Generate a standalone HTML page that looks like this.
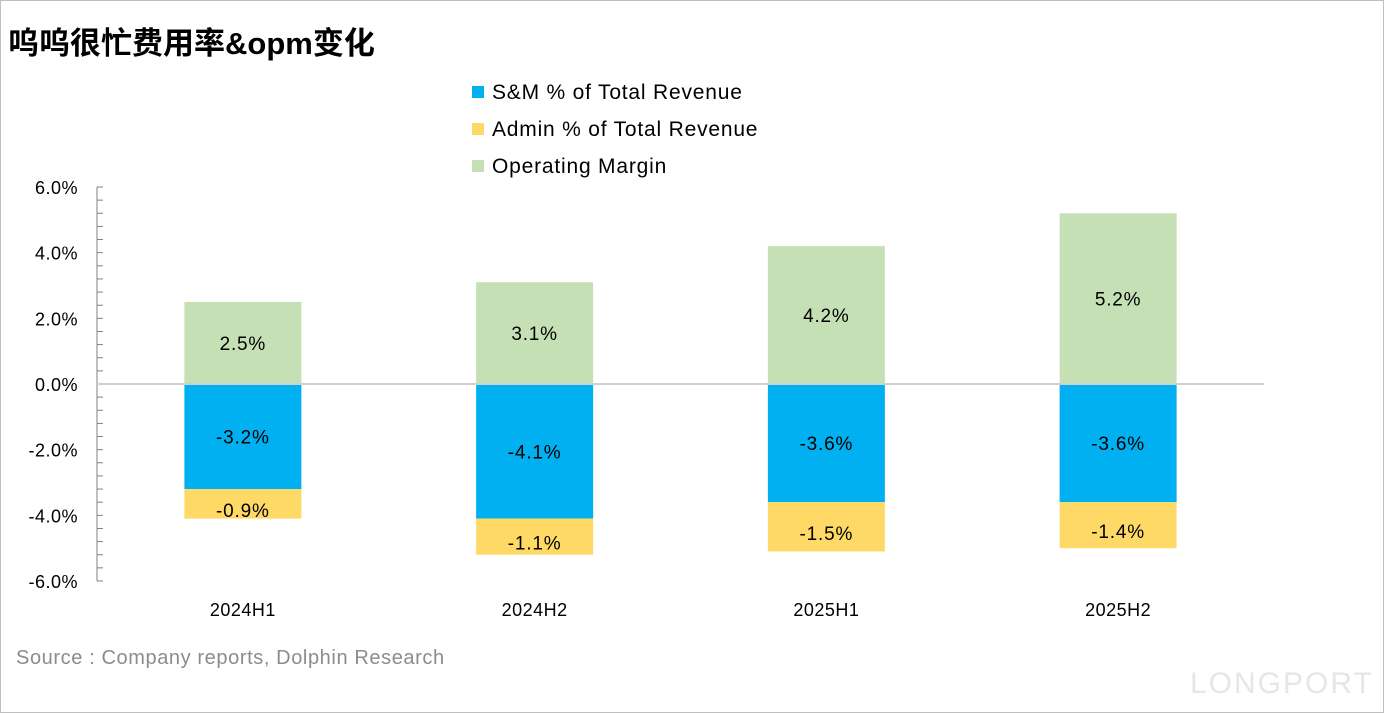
<!DOCTYPE html>
<html><head><meta charset="utf-8"><style>
body{margin:0;width:1384px;height:713px;overflow:hidden;background:#fff;font-family:"Liberation Sans","Noto Sans CJK SC",sans-serif}
#frame{position:absolute;left:0;top:0;width:1382px;height:711px;border:1px solid #bfbfbf}
#title{position:absolute;left:8px;top:18px;font-size:31px;font-weight:bold;color:#000}
#src{position:absolute;left:16px;top:647px;font-size:20px;color:#8c8c8c;letter-spacing:0.6px}
</style></head><body>
<div id="frame"></div>
<div id="title">呜呜很忙费用率&amp;opm变化</div>
<div id="src">Source : Company reports, Dolphin Research</div>
<svg id="c" width="1384" height="713" style="position:absolute;left:0;top:0"></svg>
<script>
const categories=["2024H1","2024H2","2025H1","2025H2"];
const opm=[2.5,3.1,4.2,5.2];
const sm=[-3.2,-4.1,-3.6,-3.6];
const admin=[-0.9,-1.1,-1.5,-1.4];
const yTicks=[6,4,2,0,-2,-4,-6];
const legendLabels=["S&M % of Total Revenue","Admin % of Total Revenue","Operating Margin"];
const colors=["#00b0f0","#ffd966","#c5e0b4"];
const svg=document.getElementById('c');const NS="http://www.w3.org/2000/svg";
const x0=97,x1=1264,yTop=187,yBot=581;
const y=v=>384-(v/6)*(384-yTop);
const band=(x1-x0)/categories.length;const bw=117;
const cx=i=>x0+band*(i+0.5);
function mk(t,a){const e=document.createElementNS(NS,t);for(const k in a)e.setAttribute(k,a[k]);svg.appendChild(e);return e;}
let ax=mk('line',{x1:x0,x2:x0,y1:yTop,y2:yBot,stroke:'#808080','stroke-width':1});

for(let v=-6;v<=6.001;v+=0.4){const t=mk('line',{x1:x0,x2:x0+6,y1:y(v),y2:y(v),stroke:'#808080'});
}
yTicks.forEach(v=>{const t=mk('text',{x:78,y:y(v)+7,'text-anchor':'end','font-size':18,fill:'#000','letter-spacing':0.5});t.textContent=v.toFixed(1)+'%';
});
categories.forEach((c,i)=>{
 const l=cx(i)-bw/2;
 const segs=[[0,opm[i],2],[0,sm[i],0],[sm[i],sm[i]+admin[i],1]];
 const vals=[opm[i],sm[i],admin[i]];
 segs.forEach((s,k)=>{const a=Math.min(y(s[0]),y(s[1])),b=Math.max(y(s[0]),y(s[1]));
  const r=mk('rect',{x:l,y:a,width:bw,height:b-a,fill:colors[s[2]]});
  
  const t=mk('text',{x:cx(i),y:(a+b)/2+7+(k==2?6:0),'text-anchor':'middle','font-size':19,fill:'#000','letter-spacing':0.8});
  t.textContent=vals[k].toFixed(1)+'%';
  });
 const t=mk('text',{x:cx(i),y:616,'text-anchor':'middle','font-size':18,fill:'#000','letter-spacing':0.5});t.textContent=c;
 
});
const z=mk('line',{x1:x0,x2:x1,y1:y(0),y2:y(0),stroke:'#d0d0d0','stroke-width':2});

legendLabels.forEach((l,k)=>{const yy=92+k*37;
 const r=mk('rect',{x:472,y:yy-6,width:12,height:12,fill:colors[k]});
 
 const t=mk('text',{x:492,y:yy+7,'font-size':21,fill:'#000','letter-spacing':0.8});t.textContent=l;
 });
const lg=mk('text',{x:1190,y:693,'font-size':30,fill:'#e6e6e6','letter-spacing':2});lg.textContent='LONGPORT';

</script>
</body></html>
